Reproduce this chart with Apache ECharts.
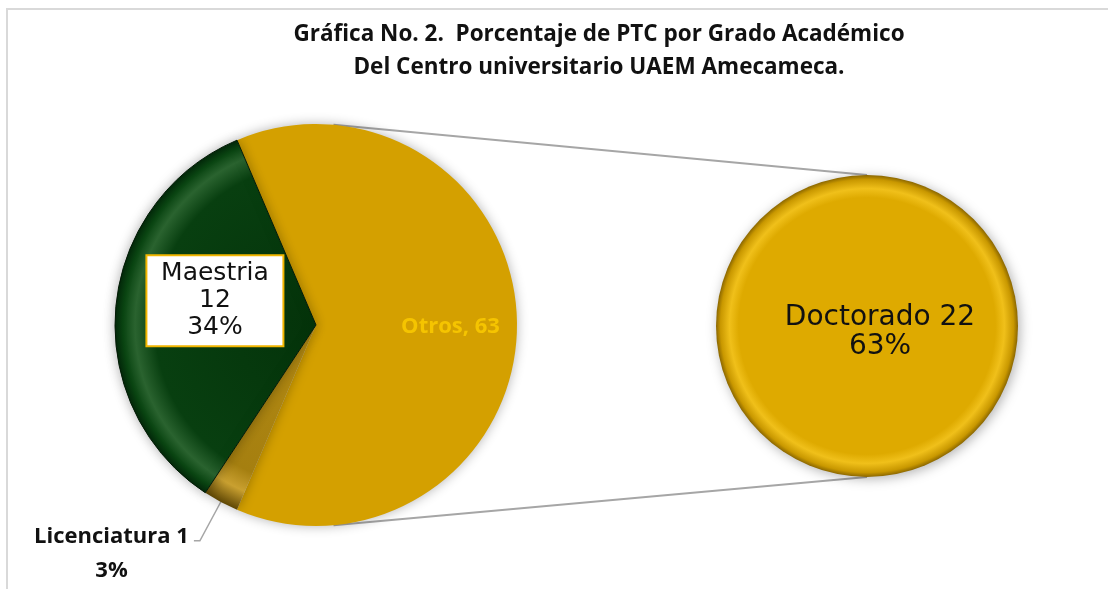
<!DOCTYPE html>
<html>
<head>
<meta charset="utf-8">
<script src="https://cdn.jsdelivr.net/npm/echarts@6/dist/echarts.min.js"></script>
<style>
  html, body { margin: 0; padding: 0; background: #fff; }
  #chart { width: 1108px; height: 589px; }
</style>
</head>
<body>
<div id="chart"></div>
<script>
// datos del grafico principal (Otros = Doctorado agrupado)
var categorias = ['Otros', 'Licenciatura', 'Maestria'];
var valores = [22, 1, 12];
// datos del grafico secundario
var subCategorias = ['Doctorado'];
var subValores = [22];

var titulo = 'Gráfica No. 2.  Porcentaje de PTC por Grado Académico\nDel Centro universitario UAEM Amecameca.';

// geometria de los dos pasteles
var c1 = [316, 325], r1 = 201;
var c2 = [867, 326], r2 = 151;

var total = valores.reduce(function (a, b) { return a + b; }, 0);
var pctOtros = Math.round(valores[0] / total * 100);

// el corte "Otros" queda centrado a la derecha
var startAng = (360 * valores[0] / total) / 2;

function radial(cx, cy, r, stops) {
    return new echarts.graphic.RadialGradient(cx, cy, r, stops, true);
}

var colores = {
    'Otros': '#D4A000',
    'Licenciatura': radial(c1[0], c1[1], r1, [
        {offset: 0, color: '#B38A12'}, {offset: 0.8, color: '#A57F10'},
        {offset: 0.9, color: '#C9A030'}, {offset: 1, color: '#5E4604'}]),
    'Maestria': radial(c1[0], c1[1], r1, [
        {offset: 0, color: '#04330A'}, {offset: 0.8, color: '#083F10'},
        {offset: 0.9, color: '#2A632F'}, {offset: 0.96, color: '#0A4512'},
        {offset: 1, color: '#03280A'}])
};

var mainData = categorias.map(function (n, i) {
    var d = {name: n, value: valores[i], itemStyle: {color: colores[n]}};
    if (n === 'Otros') {
        d.label = {
            position: 'inside', formatter: '{b}, {d}', color: '#F5C400',
            fontFamily: 'Open Sans', fontWeight: 'bold', fontSize: 22, offset: [31, 2]
        };
    } else if (n === 'Maestria') {
        d.itemStyle.borderColor = '#021a05';
        d.itemStyle.borderWidth = 1;
        d.label = {
            position: 'inside', formatter: '{b}\n{c}\n{d}%', color: '#111',
            fontFamily: 'DejaVu Sans', fontSize: 25, lineHeight: 27,
            backgroundColor: '#fff', borderColor: '#F2B600', borderWidth: 2,
            width: 131, align: 'center', padding: [4, 2, 4, 2], offset: [2, -15]
        };
    } else {
        d.label = {
            position: 'outside', formatter: '{t|{b} {c}}\n{t|{d}%}',
            padding: [26, 0, 0, 0],
            rich: {t: {fontFamily: 'Open Sans', fontWeight: 'bold', fontSize: 22,
                       lineHeight: 34, color: '#111', align: 'center'}}
        };
        d.labelLine = {show: true, length: 44, length2: 6,
                       lineStyle: {color: '#A6A6A6', width: 1.5}};
    }
    return d;
});

var subData = subCategorias.map(function (n, i) {
    return {
        name: n, value: subValores[i],
        itemStyle: {color: radial(c2[0], c2[1], r2, [
            {offset: 0, color: '#DEAA00'}, {offset: 0.85, color: '#DEAA00'},
            {offset: 0.91, color: '#F0C01A'}, {offset: 0.97, color: '#C99800'},
            {offset: 1, color: '#8A6600'}])},
        label: {
            position: 'center', formatter: '{b} {c}\n' + pctOtros + '%',
            fontFamily: 'DejaVu Sans', fontSize: 28, lineHeight: 29, color: '#111',
            offset: [13, 6]
        }
    };
});

function rad(a) { return a * Math.PI / 180; }
var lineStyle = {stroke: '#A6A6A6', lineWidth: 2};

var option = {
    backgroundColor: '#fff',
    animation: false,
    title: {
        text: titulo, left: 594, top: 13, textAlign: 'center',
        textStyle: {fontFamily: 'Open Sans', fontWeight: 'bold', fontSize: 22.5,
                    lineHeight: 33, color: '#111'}
    },
    graphic: [
        {type: 'rect', shape: {x: 7, y: 9, width: 1200, height: 700},
         style: {fill: 'none', stroke: '#D9D9D9', lineWidth: 2}, z: -1},
        {type: 'line', z: -1, style: lineStyle,
         shape: {x1: c1[0] + r1 * Math.cos(rad(85)), y1: c1[1] - r1 * Math.sin(rad(85)),
                 x2: c2[0], y2: c2[1] - r2}},
        {type: 'line', z: -1, style: lineStyle,
         shape: {x1: c1[0] + r1 * Math.cos(rad(85)), y1: c1[1] + r1 * Math.sin(rad(85)),
                 x2: c2[0], y2: c2[1] + r2}}
    ],
    series: [
        {
            name: 'Grado', type: 'pie', center: c1, radius: [0, r1],
            startAngle: startAng, clockwise: true, percentPrecision: 0,
            avoidLabelOverlap: false,
            itemStyle: {shadowBlur: 12, shadowColor: 'rgba(0,0,0,0.3)'},
            data: mainData
        },
        {
            name: 'Otros', type: 'pie', center: c2, radius: [0, r2],
            percentPrecision: 0,
            itemStyle: {shadowBlur: 12, shadowColor: 'rgba(0,0,0,0.3)',
                        shadowOffsetX: 2, shadowOffsetY: 2},
            data: subData
        }
    ]
};

var chart = echarts.init(document.getElementById('chart'));
chart.setOption(option);
</script>
</body>
</html>
